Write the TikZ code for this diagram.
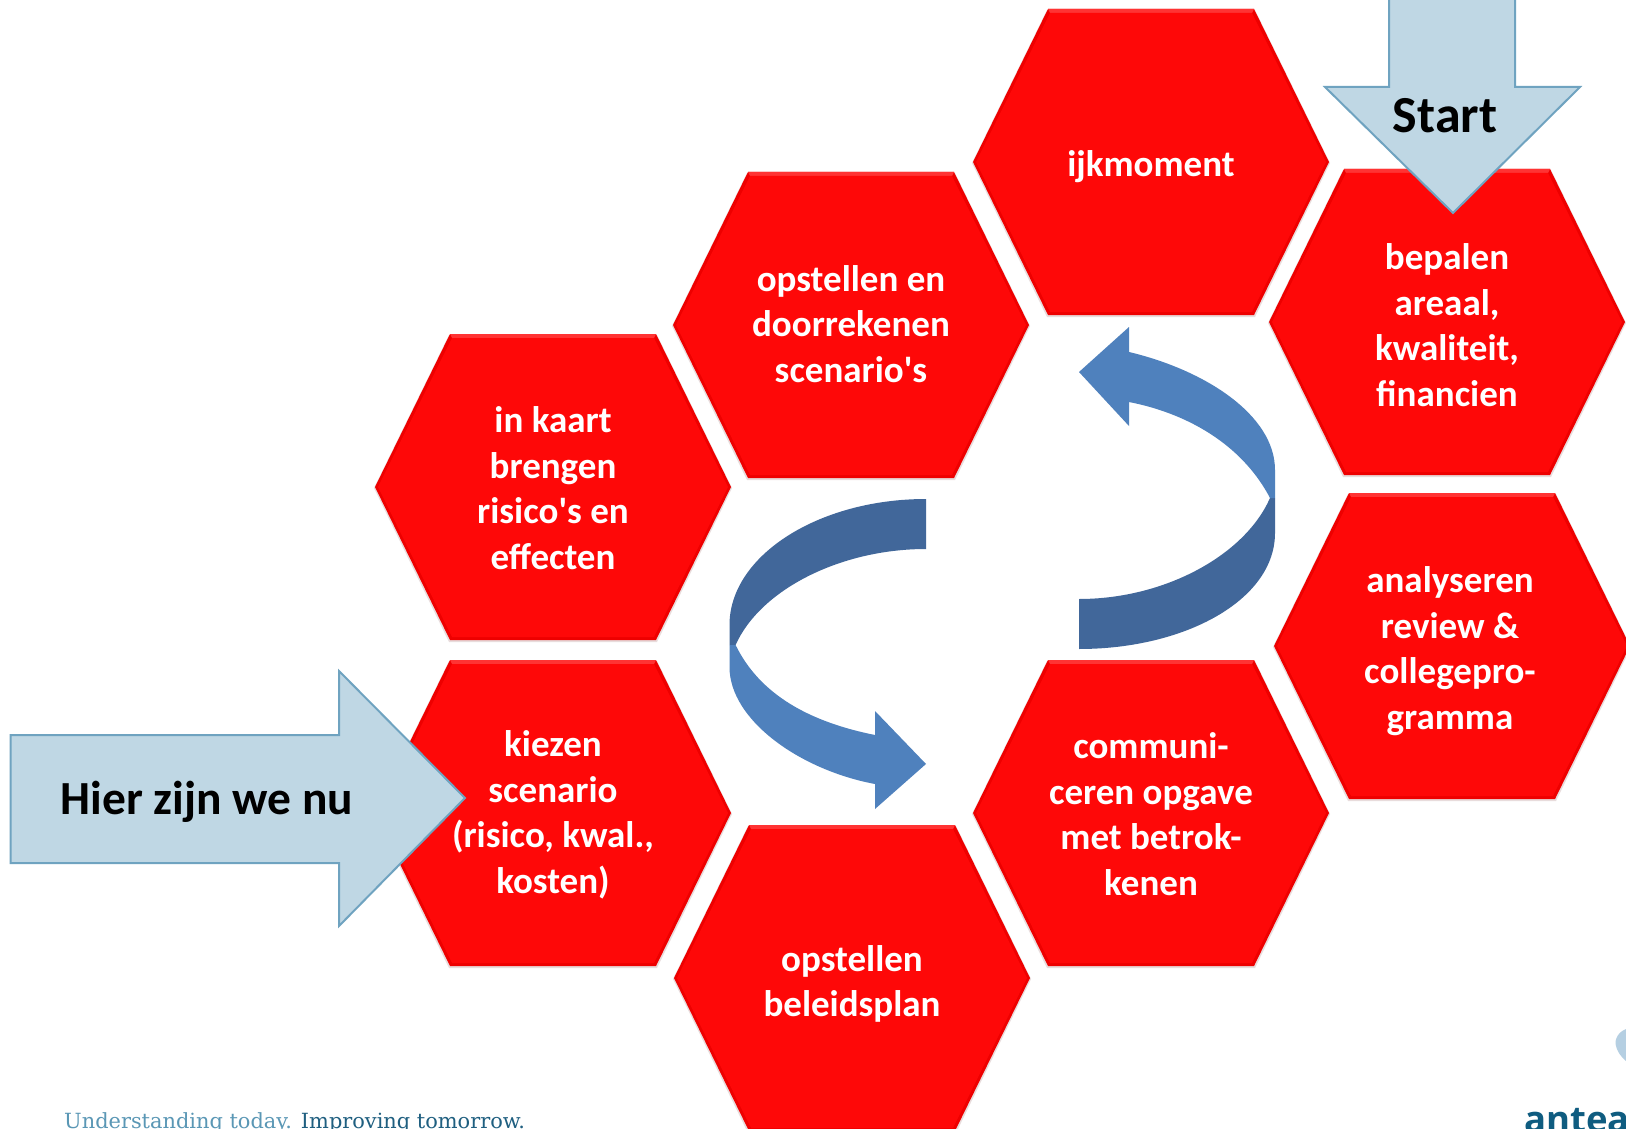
\documentclass[tikz,border=0pt]{standalone}
\usepackage{fontspec}
\setmainfont{Carlito}
\newfontfamily\tagfont{DejaVu Serif}
\newfontfamily\logofont{Open Sans}
\definecolor{hexred}{HTML}{FE0808}
\definecolor{hexdark}{HTML}{EE0000}
\definecolor{hexlight}{HTML}{FF3333}
\definecolor{hexshadow}{HTML}{E8DCDC}
\definecolor{pale}{HTML}{BFD7E4}
\definecolor{paleedge}{HTML}{6FA3C0}
\definecolor{ribbondark}{HTML}{41679A}
\definecolor{ribbonlight}{HTML}{4F81BD}
\definecolor{tagone}{HTML}{5A97B5}
\definecolor{tagtwo}{HTML}{1F5F80}
\definecolor{logoblue}{HTML}{0F5C80}
\definecolor{logopale}{HTML}{B5CFE2}
\tikzset{
  x=1pt,y=-1pt,
  hexlabel/.style={text=white,font=\fontsize{37}{45.5}\selectfont\bfseries,align=center,inner sep=0pt},
  paleshape/.style={fill=pale,draw=paleedge,line width=2pt,line join=miter},
  bigtext/.style={font=\fontsize{47.5}{54}\selectfont\bfseries,text=black,inner sep=0pt},
}
% name, centre x, centre y, label centre x, label centre y, text
\newcommand{\hexa}[6]{%
  \begin{scope}[shift={(#2,#3)}]
    \fill[hexshadow] (-104,-152)--(104,-152)--(179,1)--(104,155)--(-104,155)--(-179,1)--cycle;
    \fill[hexdark] (-103,-153)--(103,-153)--(178,0)--(103,153)--(-103,153)--(-178,0)--cycle;
    \fill[hexlight] (-103,-153)--(103,-153)--(101,-149)--(-101,-149)--cycle;
    \fill[hexred] (-101,-149)--(101,-149)--(175,0)--(101,150)--(-101,150)--(-175,0)--cycle;
  \end{scope}
  \node[hexlabel] (#1) at (#4,#5) {#6};
}
\begin{document}
\begin{tikzpicture}
\clip (0,0) rectangle (1626,1129);
\fill[white] (0,0) rectangle (1626,1129);
\hexa{ijk}{1151}{162}{1151}{167}{ijkmoment}
\hexa{doorrekenen}{851}{325}{851}{324}{opstellen en\\doorrekenen\\scenario\textquotesingle s}
\hexa{risico}{553}{487}{553}{488}{in kaart\\brengen\\risico\textquotesingle s en\\effecten}
\hexa{kiezen}{553}{813}{553}{815}{kiezen\\scenario\\(risico, kwal.,\\kosten)}
\hexa{beleid}{852}{978}{852}{984}{opstellen\\beleidsplan}
\hexa{communi}{1151}{813}{1151}{814}{communi-\\ceren opgave\\met betrok-\\kenen}
\hexa{analyse}{1452}{646}{1450}{651}{analyseren\\review \&\\collegepro-\\gramma}
\hexa{bepalen}{1447}{322}{1447}{325}{bepalen\\areaal,\\kwaliteit,\\financien}
% ribbon arrows
\fill[ribbondark] (926,499) .. controls (818,499) and (729.5,556) .. (729.5,625) -- (729.5,645) -- (735.6,645) .. controls (760,590) and (840,549) .. (926,549) -- cycle;
\fill[ribbonlight] (729.5,645) -- (729.5,667) .. controls (729.5,720) and (800,770) .. (875,784) -- (875,809) -- (926,764) -- (875,711) -- (875,735) .. controls (810,722) and (760,695) .. (735.6,645) -- cycle;
\fill[ribbondark] (1079,649) .. controls (1185,649) and (1275,600) .. (1275,533) -- (1275,498) -- (1270,498) .. controls (1245,555) and (1165,599) .. (1079,599) -- cycle;
\fill[ribbonlight] (1275,498) -- (1275,470) .. controls (1275,415) and (1205,370) .. (1129,352) -- (1129,327) -- (1079,372) -- (1129,426) -- (1129,402) .. controls (1195,415) and (1245,450) .. (1270,498) -- cycle;
% pale arrows
\draw[paleshape] (1389,-5) -- (1389,87) -- (1325,87) -- (1453,213) -- (1580,87) -- (1515,87) -- (1515,-5) -- cycle;
\node[bigtext,font=\fontsize{52}{60}\selectfont\bfseries] (start) at (1445,116) {Start};
\draw[paleshape] (10.5,735) -- (339,735) -- (339,671) -- (465,798) -- (339,926) -- (339,863) -- (10.5,863) -- cycle;
\node[bigtext] (hier) at (207,802) {Hier zijn we nu};
% footer
\node[anchor=base west,inner sep=0pt,font=\tagfont\fontsize{20.9}{24}\selectfont] (tag) at (64,1128) {\textcolor{tagone}{Understanding today.} \textcolor{tagtwo}{Improving tomorrow.}};
\fill[logopale] (1630,1028) .. controls (1618,1030) and (1614,1040) .. (1616,1046) .. controls (1618,1054) and (1624,1060) .. (1630,1064) -- cycle;
\node[anchor=base west,inner sep=0pt,text=logoblue,font=\logofont\fontsize{36.5}{44}\selectfont\bfseries] (antea) at (1524,1132) {antea};
\end{tikzpicture}
\end{document}
